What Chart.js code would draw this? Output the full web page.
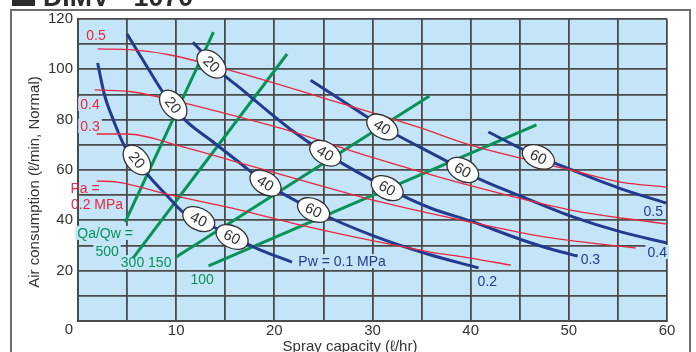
<!DOCTYPE html>
<html>
<head>
<meta charset="utf-8">
<script src="https://cdn.jsdelivr.net/npm/chart.js@4/dist/chart.umd.min.js"></script>
<style>
  body { margin: 0; background: #fff; }
</style>
</head>
<body>
<canvas id="myChart" width="696" height="352"></canvas>
<script>
// water pressure curves (Pw, MPa)
const pw01X = [2.0, 2.7, 3.6, 4.8, 6.0, 7.3, 9.1, 10.7, 12.3, 15.7, 18.6, 21.8]
const pw01Y = [102.5, 89.8, 79.9, 69.1, 64.0, 57.2, 49.7, 43.3, 40.5, 33.4, 28.2, 23.4]
const pw02X = [5.0, 6.8, 8.7, 9.7, 10.9, 13.5, 16.5, 19.1, 24.0, 30.1, 35.6, 40.8]
const pw02Y = [114.0, 102.5, 90.6, 85.8, 79.9, 71.9, 62.8, 54.8, 44.1, 33.8, 26.6, 21.1]
const pw03X = [11.7, 12.8, 13.6, 16.5, 21.6, 25.2, 31.5, 35.9, 40.0, 45.1, 48.5, 50.9]
const pw03Y = [110.8, 106.1, 102.1, 92.6, 76.3, 66.7, 52.8, 44.9, 39.7, 32.4, 28.2, 25.8]
const pw04X = [23.7, 29.5, 31.0, 32.1, 37.7, 39.2, 40.7, 45.1, 50.2, 55.3, 60.0]
const pw04Y = [95.7, 81.0, 77.1, 74.7, 63.2, 60.0, 56.8, 49.6, 41.7, 35.4, 31.0]
const pw05X = [41.8, 46.9, 48.5, 55.1, 59.9]
const pw05Y = [75.1, 65.2, 62.8, 52.8, 46.9]

// air pressure curves (Pa, MPa)
const pa05X = [2.0, 5.6, 9.4, 16.5, 25.7, 34.9, 40.0, 50.2, 55.3, 60.0]
const pa05Y = [108.1, 107.7, 105.7, 98.5, 87.8, 76.7, 69.9, 60.0, 55.2, 53.2]
const pa04X = [1.7, 5.6, 10.4, 16.5, 20.9, 29.8, 39.0, 50.2, 60.0]
const pa04Y = [91.8, 91.0, 87.0, 81.0, 76.3, 65.2, 54.8, 44.1, 38.5]
const pa03X = [1.9, 5.0, 10.4, 16.5, 22.7, 30.8, 39.0, 48.2, 56.8]
const pa03Y = [74.3, 74.3, 69.5, 62.8, 56.0, 47.3, 40.1, 33.0, 29.0]
const pa02X = [1.9, 4.0, 9.4, 16.5, 22.7, 30.1, 35.9, 40.0, 44.1]
const pa02Y = [55.6, 55.2, 50.1, 44.1, 38.1, 31.8, 27.4, 25.0, 22.2]

// air / water ratio lines (Qa/Qw)
const q500X = [4.8, 13.8]
const q500Y = [39.3, 114.8]
const q300X = [5.6, 21.3]
const q300Y = [25.0, 106.1]
const q150X = [10.0, 35.8]
const q150Y = [25.4, 89.4]
const q100X = [13.3, 46.7]
const q100Y = [21.9, 77.9]

// oval markers on the Pw curves
const ovalCurve = ['pw01', 'pw01', 'pw01', 'pw02', 'pw02', 'pw02', 'pw03', 'pw03', 'pw03', 'pw04', 'pw04', 'pw05']
const ovalX = [6.0, 12.3, 15.7, 9.7, 19.1, 24.0, 13.6, 25.2, 31.5, 31.0, 39.2, 46.9]
const ovalY = [64.0, 40.5, 33.4, 85.8, 54.8, 44.1, 102.1, 66.7, 52.8, 77.1, 60.0, 65.2]
const ovalText = ['20', '40', '60', '20', '40', '60', '20', '40', '60', '40', '60', '60']

// tick labels
const xTickLabels = [10, 20, 30, 40, 50, 60]
const yTickLabels = [20, 40, 60, 80, 100, 120]

const blue = '#233b8e'
const red = '#e8283f'
const green = '#08925a'
const plotBg = '#c4e5f7'
const gridCol = '#4a4a4a'
const fontFam = '"Liberation Sans", Arial, sans-serif'

// curve labels: text, x, y (data units), colour
const notes = [
    ['0.5', 1.84, 113.6, red], ['0.4', 1.22, 86.2, red], ['0.3', 1.22, 77.5, red],
    ['Pa =', 0.71, 52.8, red], ['0.2 MPa', 1.94, 46.5, red],
    ['Qa/Qw =', 2.76, 35.0, green], ['500', 2.96, 27.8, green],
    ['300 150', 6.94, 23.4, green], ['100', 12.65, 16.7, green],
    ['Pw = 0.1 MPa', 26.9, 23.8, blue], ['0.2', 41.7, 15.9, blue],
    ['0.3', 52.2, 24.6, blue], ['0.4', 59.0, 27.4, blue], ['0.5', 58.6, 43.7, blue]
]

const curves = {
    pw01: [pw01X, pw01Y], pw02: [pw02X, pw02Y], pw03: [pw03X, pw03Y],
    pw04: [pw04X, pw04Y], pw05: [pw05X, pw05Y]
}

function pts(xs, ys) {
    return xs.map((x, i) => ({ x: x, y: ys[i] }))
}

function line(xs, ys, color, width, curved) {
    return {
        data: pts(xs, ys),
        borderColor: color,
        borderWidth: width,
        pointRadius: 0,
        fill: false,
        cubicInterpolationMode: curved ? 'monotone' : 'default',
        tension: 0,
        borderCapStyle: 'butt'
    }
}

const extras = {
    id: 'extras',
    beforeDraw(chart) {
        const { ctx, chartArea: a } = chart
        ctx.save()
        ctx.fillStyle = '#fff'
        ctx.fillRect(0, 0, chart.width, chart.height)
        // outer frame
        ctx.strokeStyle = '#6e6e6e'
        ctx.lineWidth = 2
        ctx.beginPath()
        ctx.moveTo(11, 352)
        ctx.lineTo(11, 10)
        ctx.lineTo(690, 10)
        ctx.lineTo(690, 352)
        ctx.stroke()
        // title, mostly cut off at the top
        ctx.fillStyle = '#2b2b2b'
        ctx.fillRect(12, -20, 23, 26)
        ctx.font = 'bold 28px ' + fontFam
        ctx.textBaseline = 'alphabetic'
        ctx.textAlign = 'left'
        ctx.fillText('DIMV - 1070', 43, 6, 150)
        // plot background
        ctx.fillStyle = plotBg
        ctx.fillRect(a.left, a.top, a.right - a.left, a.bottom - a.top)
        ctx.restore()
    },
    beforeDatasetsDraw(chart) {
        const { ctx, scales: { x, y } } = chart
        ctx.save()
        ctx.textAlign = 'center'
        ctx.textBaseline = 'middle'
        notes.forEach(n => {
            ctx.font = '14px ' + fontFam
            const px = x.getPixelForValue(n[1])
            const py = y.getPixelForValue(n[2])
            const w = ctx.measureText(n[0]).width
            ctx.fillStyle = plotBg
            if (px - w / 2 > x.left - 2) ctx.fillRect(px - w / 2 - 2, py - 7, w + 4, 14)
            ctx.fillStyle = n[3]
            ctx.fillText(n[0], px, py + 1)
        })
        ctx.restore()
    },
    afterDatasetsDraw(chart) {
        const { ctx, scales: { x, y } } = chart
        ctx.save()
        ovalX.forEach((ox, i) => {
            const [xs, ys] = curves[ovalCurve[i]]
            let k = 0
            while (k < xs.length - 2 && xs[k + 1] <= ox) k++
            const a0 = Math.max(0, k - (xs[k] === ox ? 1 : 0))
            const a1 = Math.min(xs.length - 1, k + 1)
            const ang = Math.atan2(
                y.getPixelForValue(ys[a1]) - y.getPixelForValue(ys[a0]),
                x.getPixelForValue(xs[a1]) - x.getPixelForValue(xs[a0]))
            ctx.save()
            ctx.translate(x.getPixelForValue(ox), y.getPixelForValue(ovalY[i]))
            ctx.rotate(ang)
            ctx.beginPath()
            ctx.ellipse(0, 0, 17, 11, 0, 0, Math.PI * 2)
            ctx.fillStyle = '#fff'
            ctx.fill()
            ctx.strokeStyle = '#333'
            ctx.lineWidth = 1.3
            ctx.stroke()
            ctx.fillStyle = '#333'
            ctx.font = '15px ' + fontFam
            ctx.textAlign = 'center'
            ctx.textBaseline = 'middle'
            ctx.fillText(ovalText[i], 0, 1)
            ctx.restore()
        })
        ctx.restore()
    },
    afterDraw(chart) {
        const { ctx } = chart
        ctx.save()
        ctx.fillStyle = '#333'
        ctx.font = '15px ' + fontFam
        ctx.textAlign = 'right'
        ctx.textBaseline = 'middle'
        ctx.fillText('0', 73, 330)
        ctx.textAlign = 'center'
        ctx.textBaseline = 'alphabetic'
        ctx.fillText('Spray capacity (ℓ/hr)', 350, 351)
        ctx.translate(39, 182)
        ctx.rotate(-Math.PI / 2)
        ctx.fillText('Air consumption (ℓ/min, Normal)', 0, 0)
        ctx.restore()
    }
}

const ctx = document.getElementById('myChart')

const data = {
    datasets: [
        line(pa05X, pa05Y, red, 1.3, true),
        line(pa04X, pa04Y, red, 1.3, true),
        line(pa03X, pa03Y, red, 1.3, true),
        line(pa02X, pa02Y, red, 1.3, true),
        line(pw01X, pw01Y, blue, 3, true),
        line(pw02X, pw02Y, blue, 3, true),
        line(pw03X, pw03Y, blue, 3, true),
        line(pw04X, pw04Y, blue, 3, true),
        line(pw05X, pw05Y, blue, 3, true),
        line(q500X, q500Y, green, 3, false),
        line(q300X, q300Y, green, 3, false),
        line(q150X, q150Y, green, 3, false),
        line(q100X, q100Y, green, 3, false)
    ]
}

const config = {
    type: 'line',
    data: data,
    plugins: [extras],
    options: {
        responsive: false,
        animation: false,
        events: [],
        layout: { padding: { top: 19, right: 29, bottom: 0, left: 0 } },
        plugins: { legend: { display: false }, tooltip: { enabled: false } },
        scales: {
            x: {
                type: 'linear',
                min: 0,
                max: 60,
                afterFit: s => { s.height = 31 },
                grid: { color: gridCol, lineWidth: 1.8, drawTicks: false },
                border: { color: gridCol, width: 2 },
                ticks: {
                    stepSize: 5,
                    padding: 1,
                    maxRotation: 0,
                    autoSkip: false,
                    color: '#333',
                    font: { family: fontFam, size: 15 },
                    callback: v => xTickLabels.includes(v) ? String(v) : ''
                }
            },
            y: {
                type: 'linear',
                min: 0,
                max: 120,
                afterFit: s => { s.width = 78 },
                grid: { color: gridCol, lineWidth: 1.8, drawTicks: false },
                border: { color: gridCol, width: 2 },
                ticks: {
                    stepSize: 10,
                    padding: 5,
                    autoSkip: false,
                    color: '#333',
                    font: { family: fontFam, size: 15 },
                    callback: v => yTickLabels.includes(v) ? String(v) : ''
                }
            }
        }
    }
}

const myChart = new Chart(ctx, config)
</script>
</body>
</html>
